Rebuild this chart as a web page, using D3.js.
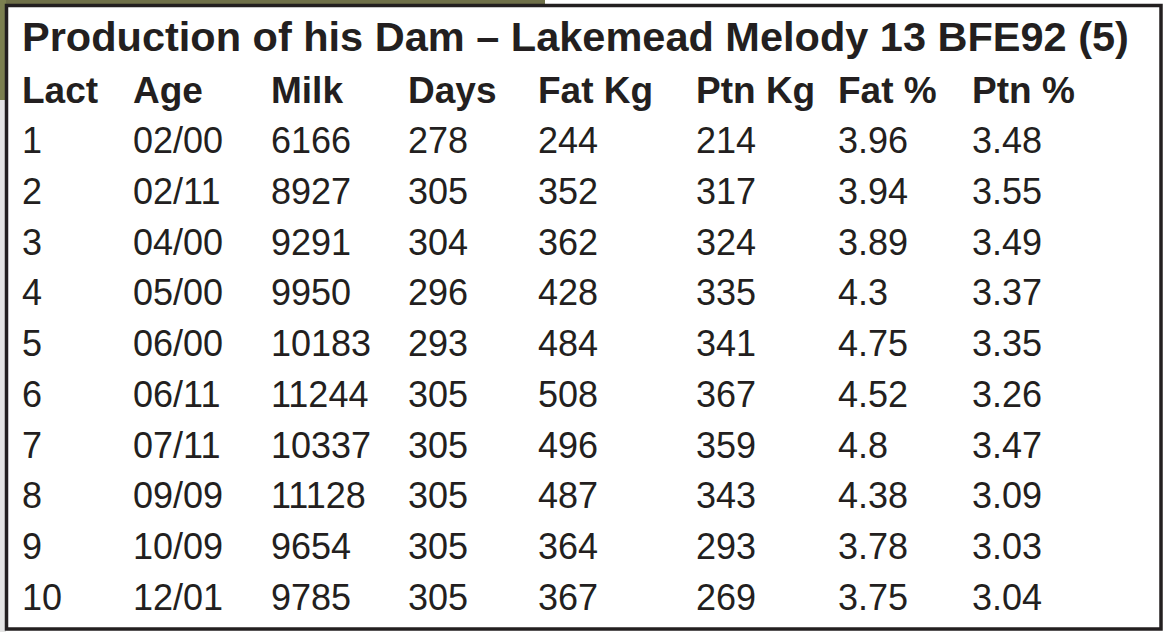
<!DOCTYPE html>
<html>
<head>
<meta charset="utf-8">
<script src="https://cdn.jsdelivr.net/npm/d3@7"></script>
<style>
  html, body { margin: 0; padding: 0; background: #fff; }
  svg { display: block; }
</style>
</head>
<body>
<div id="chart"></div>
<script>
// Table data
var title = "Production of his Dam \u2013 Lakemead Melody 13 BFE92 (5)";
var headers = ["Lact", "Age", "Milk", "Days", "Fat Kg", "Ptn Kg", "Fat %", "Ptn %"];
var lact = ["1", "2", "3", "4", "5", "6", "7", "8", "9", "10"];
var age = ["02/00", "02/11", "04/00", "05/00", "06/00", "06/11", "07/11", "09/09", "10/09", "12/01"];
var milk = ["6166", "8927", "9291", "9950", "10183", "11244", "10337", "11128", "9654", "9785"];
var days = ["278", "305", "304", "296", "293", "305", "305", "305", "305", "305"];
var fatKg = ["244", "352", "362", "428", "484", "508", "496", "487", "364", "367"];
var ptnKg = ["214", "317", "324", "335", "341", "367", "359", "343", "293", "269"];
var fatPct = ["3.96", "3.94", "3.89", "4.3", "4.75", "4.52", "4.8", "4.38", "3.78", "3.75"];
var ptnPct = ["3.48", "3.55", "3.49", "3.37", "3.35", "3.26", "3.47", "3.09", "3.03", "3.04"];

var width = 1165;
var height = 632;
var font = "'Liberation Sans', Arial, Helvetica, sans-serif";

var columns = [lact, age, milk, days, fatKg, ptnKg, fatPct, ptnPct];

var svg = d3.select("#chart")
	.append("svg")
	.attr("width", width)
	.attr("height", height);

// bit of the photo showing behind the top left corner
svg.append("rect")
	.attr("x", 0).attr("y", 0)
	.attr("width", 545).attr("height", 5)
	.style("fill", "#6f7049");
svg.append("rect")
	.attr("x", 0).attr("y", 0)
	.attr("width", 6).attr("height", 100)
	.style("fill", "#7c8050");
svg.append("rect")
	.attr("x", 0).attr("y", 100)
	.attr("width", 6).attr("height", 532)
	.style("fill", "#e4e4e4");

// frame
svg.append("rect")
	.attr("x", 6.5)
	.attr("y", 5.5)
	.attr("width", 1154.5)
	.attr("height", 623.5)
	.style("fill", "#fff")
	.style("stroke", "#231f20")
	.style("stroke-width", 3.5);

// column and row scales
var xScale = d3.scaleOrdinal()
	.domain(d3.range(headers.length))
	.range([22, 133, 271, 408, 538, 696, 838, 972]);

var yScale = d3.scalePoint()
	.domain(lact)
	.range([153, 610]);

svg.append("text")
	.attr("x", 22)
	.attr("y", 51)
	.style("font-family", font)
	.style("font-weight", "bold")
	.style("font-size", "41.5px")
	.style("fill", "#231f20")
	.text(title);

svg.append("g")
	.selectAll("text")
	.data(headers)
	.enter()
	.append("text")
	.attr("x", (d, i) => xScale(i))
	.attr("y", 103)
	.style("font-family", font)
	.style("font-weight", "bold")
	.style("font-size", "37px")
	.style("fill", "#231f20")
	.text(d => d);

var body = svg.append("g");

columns.forEach(function(col, ci){
	body.selectAll("text.c" + ci)
		.data(col)
		.enter()
		.append("text")
		.attr("class", "c" + ci)
		.attr("x", xScale(ci))
		.attr("y", (d, i) => yScale(lact[i]))
		.style("font-family", font)
		.style("font-size", "36px")
		.style("fill", "#231f20")
		.text(d => d);
});
</script>
</body>
</html>
